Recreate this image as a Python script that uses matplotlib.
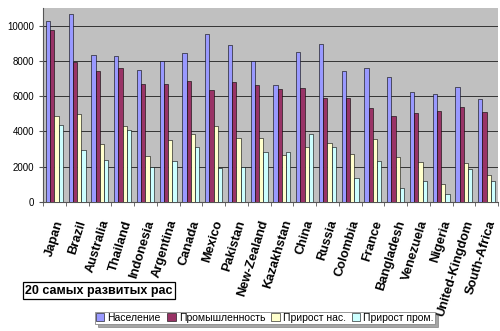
import numpy as np
import matplotlib.pyplot as plt

plt.rcParams['font.family'] = ['Liberation Sans', 'DejaVu Sans']

countries = ["Japan", "Brazil", "Australia", "Thailand", "Indonesia", "Argentina",
             "Canada", "Mexico", "Pakistan", "New-Zealand", "Kazakhstan", "China",
             "Russia", "Colombia", "France", "Bangladesh", "Venezuela", "Nigeria",
             "United-Kingdom", "South-Africa"]

naselenie = [10250, 10680, 8310, 8280, 7500, 8010, 8430, 9530, 8900, 7990,
             6630, 8480, 8940, 7400, 7570, 7060, 6210, 6100, 6500, 5830]
prom = [9730, 7930, 7400, 7570, 6690, 6690, 6870, 6360, 6780, 6610,
        6380, 6440, 5910, 5870, 5300, 4900, 5020, 5130, 5360, 5110]
prirost_nas = [4850, 5000, 3260, 4320, 2610, 3520, 3860, 4280, 3600, 3640,
               2650, 3090, 3350, 2710, 3580, 2560, 2270, 1020, 2220, 1500]
prirost_prom = [4380, 2950, 2400, 4090, 1970, 2330, 3140, 1930, 1990, 2840,
                2840, 3860, 3140, 1380, 2330, 800, 1210, 450, 1860, 1160]

series = [("Население", naselenie, "#9999FF"),
          ("Промышленность", prom, "#993366"),
          ("Прирост нас.", prirost_nas, "#FFFFCC"),
          ("Прирост пром.", prirost_prom, "#CCFFFF")]

fig = plt.figure(figsize=(5, 3.31), dpi=100)
ax = fig.add_axes([0.086, 0.39, 0.91, 0.586])
ax.set_facecolor("#C0C0C0")

x = np.arange(len(countries))
w = 0.185
for i, (name, vals, col) in enumerate(series):
    ax.bar(x + (i - 1.5) * w, vals, w, color=col, edgecolor="black",
           linewidth=0.4, label=name, zorder=3)

ax.set_xlim(-0.5, len(countries) - 0.5)
ax.set_ylim(0, 11000)
ax.set_yticks(range(0, 11000, 2000))
ax.yaxis.grid(True, color="#333333", linewidth=0.7, zorder=0)
ax.tick_params(axis="y", labelsize=7, length=3, color="#555555")

ax.set_xticks(x)
ax.set_xticklabels(countries, rotation=73, ha="right", rotation_mode="anchor",
                   fontsize=9.3, fontweight="bold")
ax.tick_params(axis="x", length=0, pad=12)
ax.set_xticks(np.arange(-0.5, len(countries)), minor=True)
ax.tick_params(axis="x", which="minor", length=3, color="#555555")

for s in ["top", "right"]:
    ax.spines[s].set_visible(False)
ax.spines["left"].set_color("#555555")
ax.spines["bottom"].set_color("#555555")

fig.text(0.05, 0.112, "20 самых развитых рас", fontsize=9, fontweight="bold",
         zorder=5,
         bbox=dict(facecolor="white", edgecolor="black", linewidth=0.9,
                   boxstyle="square,pad=0.2"))

leg = fig.legend(loc="center", bbox_to_anchor=(0.53, 0.04), ncol=4,
                 fontsize=7.5, frameon=True, fancybox=False, shadow=True,
                 handlelength=0.8, handleheight=0.8, handletextpad=0.3,
                 columnspacing=0.6, borderpad=0.1, edgecolor="#888888")
leg.get_frame().set_linewidth(0.6)
leg.set_zorder(5)

fig.savefig("out.png", dpi=100)
